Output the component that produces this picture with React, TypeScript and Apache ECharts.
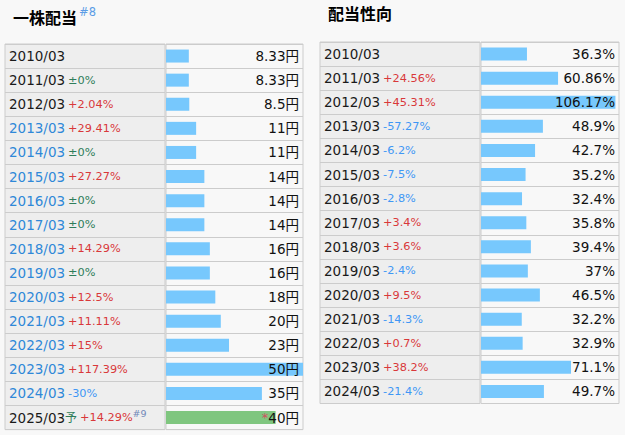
import React, { useEffect, useRef } from "react";
import * as echarts from "echarts";

const divYears = ["2010/03", "2011/03", "2012/03", "2013/03", "2014/03", "2015/03", "2016/03", "2017/03", "2018/03", "2019/03", "2020/03", "2021/03", "2022/03", "2023/03", "2024/03", "2025/03"];
const divValues = [8.33, 8.33, 8.5, 11, 11, 14, 14, 14, 16, 16, 18, 20, 23, 50, 35, 40];
const divChange = ["", "±0%", "+2.04%", "+29.41%", "±0%", "+27.27%", "±0%", "±0%", "+14.29%", "±0%", "+12.5%", "+11.11%", "+15%", "+117.39%", "-30%", "+14.29%"];
const divLinked = [false, false, false, true, true, true, true, true, true, true, true, true, true, true, true, false];
const divForecast = [false, false, false, false, false, false, false, false, false, false, false, false, false, false, false, true];

const payYears = ["2010/03", "2011/03", "2012/03", "2013/03", "2014/03", "2015/03", "2016/03", "2017/03", "2018/03", "2019/03", "2020/03", "2021/03", "2022/03", "2023/03", "2024/03"];
const payValues = [36.3, 60.86, 106.17, 48.9, 42.7, 35.2, 32.4, 35.8, 39.4, 37, 46.5, 32.2, 32.9, 71.1, 49.7];
const payChange = ["", "+24.56%", "+45.31%", "-57.27%", "-6.2%", "-7.5%", "-2.8%", "+3.4%", "+3.6%", "-2.4%", "+9.5%", "-14.3%", "+0.7%", "+38.2%", "-21.4%"];

const FONT = "DejaVu Sans, Noto Sans CJK JP";
const BORDER = "#cccccc";

const rich = {
  y: { color: "#1a1a1a", fontSize: 13.5, fontFamily: FONT },
  yl: { color: "#2f88d8", fontSize: 13.5, fontFamily: FONT },
  up: { color: "#d9383a", fontSize: 11.3, fontFamily: FONT, padding: [0, 0, 0, 3] },
  dn: { color: "#3f97f5", fontSize: 11.3, fontFamily: FONT, padding: [0, 0, 0, 3] },
  eq: { color: "#2e7d5a", fontSize: 11.3, fontFamily: FONT, padding: [0, 0, 0, 3] },
  yo: { color: "#2e7d5a", fontSize: 12, fontFamily: FONT },
  sup: { color: "#7088b8", fontSize: 9.5, fontFamily: FONT, padding: [0, 0, 9, 0] },
  v: { color: "#111", fontSize: 13.5, fontFamily: FONT },
  ast: { color: "#d05060", fontSize: 13, fontFamily: FONT },
};

function changeStyle(c: string) {
  if (!c) return "";
  if (c.startsWith("+")) return `{up|${c}}`;
  if (c.startsWith("-")) return `{dn|${c}}`;
  return `{eq|${c}}`;
}

function tableParts(
  idx: number,
  years: string[],
  values: number[],
  change: string[],
  linked: boolean[],
  forecast: boolean[],
  unit: string,
  top: number,
  leftX: number,
  labelW: number,
  barW: number,
  max: number
) {
  const h = years.length * 24.1;
  const gA = idx * 2;
  const gB = idx * 2 + 1;
  const grids = [
    { left: leftX, top, width: labelW, height: h, show: true, backgroundColor: "#eeeeee", borderColor: BORDER, borderWidth: 1 },
    { left: leftX + labelW + 1, top, width: barW, height: h, show: true, backgroundColor: "#f8f8f8", borderColor: BORDER, borderWidth: 1 },
  ];
  const xAxes = [
    { gridIndex: gA, type: "value", min: 0, max: 1, show: false },
    { gridIndex: gB, type: "value", min: 0, max, show: false },
  ];
  const catBase = {
    type: "category",
    inverse: true,
    data: years,
    axisLine: { show: false },
    axisTick: { show: false },
    splitLine: { show: true, lineStyle: { color: BORDER, width: 1 } },
  };
  const yAxes = [
    {
      ...catBase,
      gridIndex: gA,
      axisLabel: {
        inside: true,
        margin: 4,
        align: "left",
        formatter: (_v: string, i: number) => {
          const yr = years[i];
          let s = linked[i] ? `{yl|${yr}}` : `{y|${yr}}`;
          if (forecast[i]) s += `{yo|予}`;
          s += changeStyle(change[i]);
          if (forecast[i]) s += `{sup|#9}`;
          return s;
        },
        rich,
      },
    },
    {
      ...catBase,
      gridIndex: gB,
      axisLabel: { show: false },
    },
    {
      ...catBase,
      gridIndex: gB,
      position: "right",
      z: 10,
      splitLine: { show: false },
      axisLabel: {
        inside: true,
        margin: 4,
        align: "right",
        formatter: (_v: string, i: number) => {
          const t = `{v|${values[i]}${unit}}`;
          return forecast[i] ? `{ast|*}${t}` : t;
        },
        rich,
      },
    },
  ];
  return { grids, xAxes, yAxes };
}

export default function App() {
  const ref = useRef<HTMLDivElement>(null);
  useEffect(() => {
    if (!ref.current) return;
    const chart = echarts.init(ref.current, null, { renderer: "svg" });
    const L = tableParts(0, divYears, divValues, divChange, divLinked, divForecast, "円", 44, 5, 160, 137, 50);
    const R = tableParts(1, payYears, payValues, payChange, payYears.map(() => false), payYears.map(() => false), "%", 42, 320, 160, 138, 109);
    const yOffsetR = L.yAxes.length;
    const option: any = {
      animation: false,
      backgroundColor: "#f8f8f8",
      textStyle: { fontFamily: FONT },
      title: [
        {
          left: 13,
          top: 6,
          padding: 0,
          text: "{t|一株配当}{s|#8}",
          textStyle: {
            rich: {
              t: { fontSize: 16, fontWeight: "bold", color: "#000", fontFamily: "Noto Sans CJK JP" },
              s: { fontSize: 11.5, fontWeight: "normal", color: "#5b9de6", fontFamily: FONT, padding: [0, 0, 10, 2] },
            },
          },
        },
        {
          left: 328,
          top: 5,
          padding: 0,
          text: "{t|配当性向}",
          textStyle: {
            rich: {
              t: { fontSize: 16, fontWeight: "bold", color: "#000", fontFamily: "Noto Sans CJK JP" },
            },
          },
        },
      ],
      grid: [...L.grids, ...R.grids],
      xAxis: [...L.xAxes, ...R.xAxes],
      yAxis: [...L.yAxes, ...R.yAxes],
      series: [
        {
          type: "bar",
          xAxisIndex: 1,
          yAxisIndex: 1,
          barWidth: 13,
          data: divValues.map((v, i) => ({
            value: v,
            itemStyle: { color: divForecast[i] ? "#7fc67f" : "#77c8fd" },
          })),
        },
        {
          type: "bar",
          xAxisIndex: 3,
          yAxisIndex: yOffsetR + 1,
          barWidth: 13,
          itemStyle: { color: "#77c8fd" },
          data: payValues,
        },
      ],
    };
    chart.setOption(option);
    return () => chart.dispose();
  }, []);
  return <div ref={ref} style={{ position: "fixed", left: 0, top: 0, width: 625, height: 435 }} />;
}
